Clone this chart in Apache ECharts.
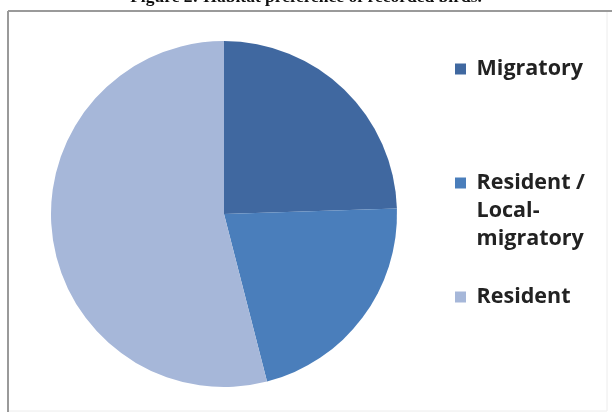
<!DOCTYPE html>
<html>
<head>
<meta charset="utf-8">
<script src="https://cdn.jsdelivr.net/npm/echarts@6/dist/echarts.min.js"></script>
<style>
  html, body { margin: 0; padding: 0; background: #fff; }
  #chart { width: 612px; height: 412px; }
</style>
</head>
<body>
<div id="chart"></div>
<script>
// habitat categories and their shares (%)
var categories = ["Migratory", "Resident /\nLocal-\nmigratory", "Resident"];
var shares = [24.5, 21.5, 54];
var colors = ["#4068a0", "#4a7ebb", "#a6b7d9"];

var pieData = [];
categories.forEach(function (name, i) {
  pieData.push({ name: name, value: shares[i], itemStyle: { color: colors[i] } });
});

var legendText = {
  fontFamily: "Open Sans",
  fontWeight: "bold",
  fontSize: 21.5,
  color: "#222",
  lineHeight: 28
};

// keep the icon on the first line of a wrapped legend name
function legendFormatter(name) {
  var lines = name.split("\n");
  var out = [];
  for (var i = 1; i < lines.length; i++) out.push("");
  lines.forEach(function (l) { out.push(" " + l); });
  return out.join("\n");
}

var myChart = echarts.init(document.getElementById("chart"));
myChart.setOption({
  animation: false,
  title: {
    text: "{b|Figure 2:} {n|Habitat preference of recorded birds.}",
    left: "center",
    top: -12,
    padding: 0,
    textStyle: {
      rich: {
        b: { fontFamily: "Liberation Serif", fontSize: 17.5, fontWeight: "bold", color: "#111" },
        n: { fontFamily: "Liberation Serif", fontSize: 17.5, color: "#111" }
      }
    }
  },
  graphic: [
    { type: "line", shape: { x1: 8, y1: 11, x2: 612, y2: 11 }, style: { stroke: "#9a9a9a", lineWidth: 2 } },
    { type: "line", shape: { x1: 8, y1: 11, x2: 8, y2: 412 }, style: { stroke: "#9a9a9a", lineWidth: 2 } },
    { type: "line", shape: { x1: 607, y1: 12, x2: 607, y2: 411 }, style: { stroke: "#ececec", lineWidth: 1 } },
    { type: "line", shape: { x1: 9, y1: 411, x2: 607, y2: 411 }, style: { stroke: "#ececec", lineWidth: 1 } }
  ],
  legend: [
    {
      data: [categories[0]],
      left: 455, top: 55, padding: 0,
      itemWidth: 11, itemHeight: 11, icon: "rect",
      formatter: legendFormatter,
      textStyle: legendText
    },
    {
      data: [categories[1]],
      left: 455, top: 113, padding: 0,
      itemWidth: 11, itemHeight: 11, icon: "rect",
      formatter: legendFormatter,
      textStyle: legendText
    },
    {
      data: [categories[2]],
      left: 455, top: 283, padding: 0,
      itemWidth: 11, itemHeight: 11, icon: "rect",
      formatter: legendFormatter,
      textStyle: legendText
    }
  ],
  series: [
    {
      type: "pie",
      center: [224, 214],
      radius: 173,
      startAngle: 90,
      clockwise: true,
      label: { show: false },
      labelLine: { show: false },
      emphasis: { disabled: true },
      data: pieData
    }
  ]
});
window.addEventListener("resize", function () {
  myChart.resize();
});
</script>
</body>
</html>
